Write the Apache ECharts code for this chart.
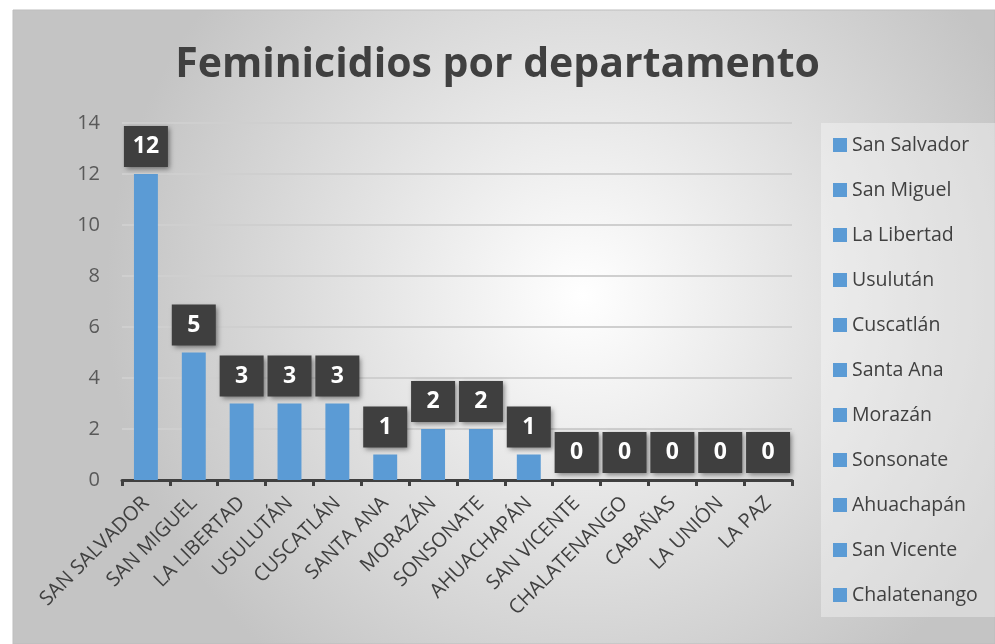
<!DOCTYPE html>
<html>
<head>
<meta charset="utf-8">
<script src="https://cdn.jsdelivr.net/npm/echarts@6/dist/echarts.min.js"></script>
<style>
  html, body { margin: 0; padding: 0; background: #fff; }
  #chart { width: 995px; height: 644px; }
</style>
</head>
<body>
<div id="chart"></div>
<script>
// datos
var departamentos = ['San Salvador', 'San Miguel', 'La Libertad', 'Usulután', 'Cuscatlán', 'Santa Ana',
  'Morazán', 'Sonsonate', 'Ahuachapán', 'San Vicente', 'Chalatenango', 'Cabañas', 'La Unión', 'La Paz'];
var feminicidios = [12, 5, 3, 3, 3, 1, 2, 2, 1, 0, 0, 0, 0, 0];
var yTicks = [0, 2, 4, 6, 8, 10, 12, 14];
// la leyenda original solo alcanza a mostrar los primeros 11
var leyenda = departamentos.slice(0, 11);

var azul = '#5B9BD5';
var fuente = '"Open Sans", "Noto Sans", sans-serif';

var chart = echarts.init(document.getElementById('chart'));

var series = [{
  name: 'Feminicidios',
  type: 'bar',
  stack: 'total',
  barWidth: '50%',
  data: feminicidios,
  itemStyle: { color: azul },
  label: {
    show: true,
    position: 'top',
    distance: 7,
    width: 44,
    height: 41,
    lineHeight: 41,
    backgroundColor: '#3f3f3f',
    color: '#ffffff',
    fontFamily: fuente,
    fontWeight: 'bold',
    fontSize: 23,
    shadowBlur: 5,
    shadowOffsetX: 2,
    shadowOffsetY: 2,
    shadowColor: 'rgba(0,0,0,0.45)'
  }
}];
// series vacías solo para la leyenda
leyenda.forEach(function (n) {
  series.push({ name: n, type: 'bar', stack: 'total', data: [], itemStyle: { color: azul } });
});

chart.setOption({
  backgroundColor: '#ffffff',
  animation: false,
  graphic: [{
    type: 'rect',
    z: -10,
    shape: { x: 13, y: 10, width: 982, height: 634 },
    style: {
      fill: new echarts.graphic.RadialGradient(0.58, 0.45, 0.75, [
        { offset: 0, color: '#ffffff' },
        { offset: 1, color: '#c4c4c4' }
      ]),
      stroke: '#bdbdbd',
      lineWidth: 1
    }
  }],
  title: {
    text: 'Feminicidios por departamento',
    left: 'center',
    top: 40,
    textStyle: { fontFamily: fuente, fontWeight: 'bold', fontSize: 41, color: '#404040' }
  },
  legend: {
    data: leyenda,
    orient: 'vertical',
    left: 821,
    top: 123,
    padding: [12, 30, 12, 12],
    itemGap: 25,
    itemWidth: 14,
    itemHeight: 14,
    icon: 'rect',
    backgroundColor: 'rgba(255,255,255,0.35)',
    textStyle: { fontFamily: fuente, fontSize: 19.5, color: '#404040', lineHeight: 20 }
  },
  grid: { left: 122, right: 203, top: 123, bottom: 164 },
  xAxis: {
    type: 'category',
    data: departamentos.map(function (d) { return d.toUpperCase(); }),
    axisLine: { lineStyle: { color: '#404040', width: 3 } },
    axisTick: { show: true, length: 6, lineStyle: { color: '#404040', width: 3 } },
    axisLabel: { rotate: 45, interval: 0, margin: 20, fontFamily: fuente, fontSize: 20, color: '#404040' }
  },
  yAxis: {
    type: 'value',
    min: yTicks[0],
    max: yTicks[yTicks.length - 1],
    interval: 2,
    axisLine: { show: false },
    axisTick: { show: false },
    splitLine: { lineStyle: { color: '#cfcfcf', width: 2 } },
    axisLabel: { margin: 22, fontFamily: fuente, fontSize: 20, color: '#595959' }
  },
  series: series
});
</script>
</body>
</html>
